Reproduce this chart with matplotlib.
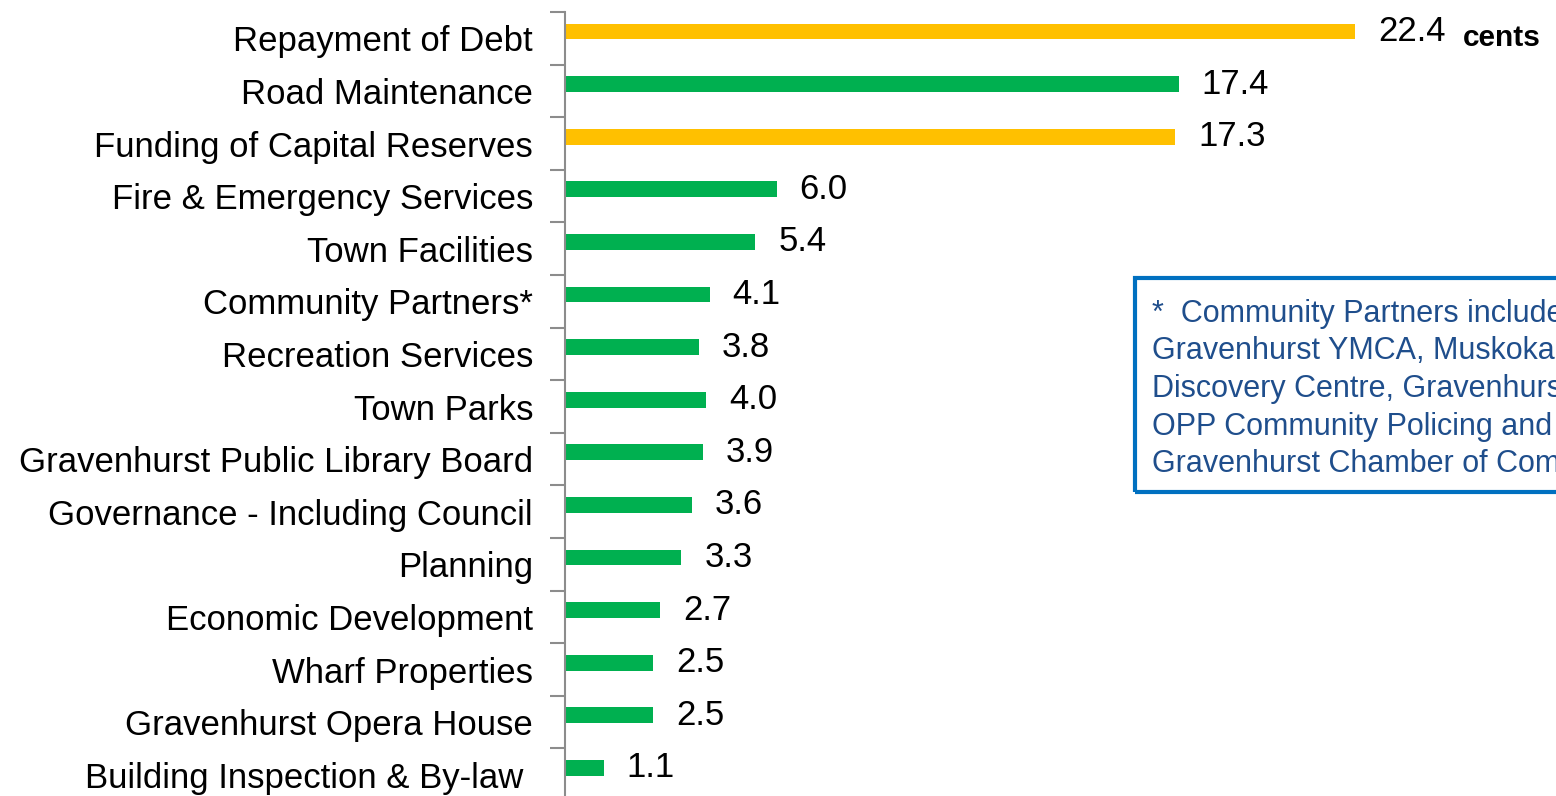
import matplotlib
matplotlib.use("Agg")
import matplotlib.pyplot as plt
from matplotlib.patches import Rectangle

categories = ["Repayment of Debt", "Road Maintenance", "Funding of Capital Reserves",
              "Fire & Emergency Services", "Town Facilities", "Community Partners*",
              "Recreation Services", "Town Parks", "Gravenhurst Public Library Board",
              "Governance - Including Council", "Planning", "Economic Development",
              "Wharf Properties", "Gravenhurst Opera House", "Building Inspection & By-law "]
values = [22.4, 17.4, 17.3, 6.0, 5.4, 4.1, 3.8, 4.0, 3.9, 3.6, 3.3, 2.7, 2.5, 2.5, 1.1]
value_labels = ["22.4", "17.4", "17.3", "6.0", "5.4", "4.1", "3.8", "4.0", "3.9", "3.6",
                "3.3", "2.7", "2.5", "2.5", "1.1"]
bar_kinds = ["debt", "service", "debt", "service", "service", "service", "service",
             "service", "service", "service", "service", "service", "service", "service",
             "service"]
unit_label = "cents"
note_lines = ["*  Community Partners include",
              "Gravenhurst YMCA, Muskoka",
              "Discovery Centre, Gravenhurst",
              "OPP Community Policing and",
              "Gravenhurst Chamber of Commerce"]

kind_colors = {"debt": "#FFC000", "service": "#00B050"}

plt.rcParams['font.family'] = ['Liberation Sans', 'DejaVu Sans']

W, H = 1556, 796
fig = plt.figure(figsize=(W / 100, H / 100), dpi=100)
ax = fig.add_axes([565 / W, 1 - 801 / H, 991 / W, 789 / H])

n = len(categories)
pos = list(range(n))
bar_pos = [p - 0.13 for p in pos]
ax.barh(bar_pos, values, height=0.30, color=[kind_colors[k] for k in bar_kinds])

for y, v, lab in zip(bar_pos, values, value_labels):
    ax.text(v + 0.65, y, lab, va='center', ha='left', fontsize=25, color='black')

ax.set_xlim(0, 991 / 35.27)
ax.set_ylim(n - 0.5, -0.5)
ax.set_yticks(pos)
ax.set_yticklabels(categories, fontsize=25)
ax.tick_params(axis='y', which='major', length=0, pad=23)
ax.set_yticks([p - 0.5 for p in range(n + 1)], minor=True)
ax.tick_params(axis='y', which='minor', length=11, width=1.5, color='#8C8C8C')
ax.set_xticks([])
for s in ['top', 'right', 'bottom']:
    ax.spines[s].set_visible(False)
ax.spines['left'].set_color('#8C8C8C')
ax.spines['left'].set_linewidth(1.5)

fig.text(1463 / W, 1 - 38 / H, unit_label, fontsize=21.5, fontweight='bold', va='center', ha='left')

rect = Rectangle((1135 / W, 1 - 492 / H), 450 / W, 214 / H, transform=fig.transFigure,
                 fill=False, edgecolor='#0070C0', linewidth=3)
fig.patches.append(rect)
for i, line in enumerate(note_lines):
    fig.text(1152 / W, 1 - (314 + i * 37.5) / H, line, fontsize=22, color='#1F4E8C',
             va='center', ha='left')

fig.savefig("out.png", dpi=100)
